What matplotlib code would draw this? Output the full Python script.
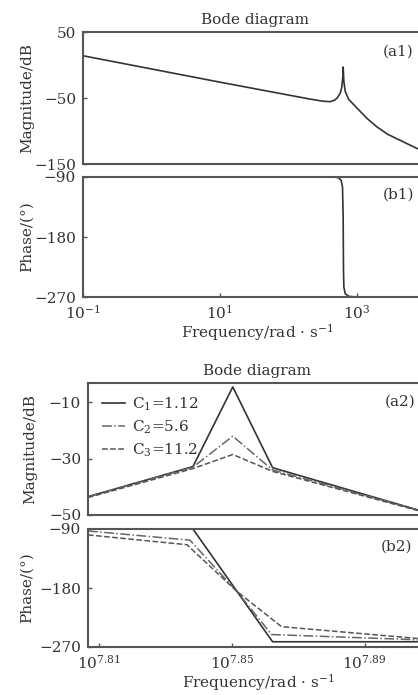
import matplotlib
matplotlib.use("Agg")
import matplotlib.pyplot as plt
import numpy as np

plt.rcParams["font.family"] = ["DejaVu Serif"]
plt.rcParams["mathtext.fontset"] = "dejavuserif"

# ---- panel 1 : single system (a1)/(b1), frequency in rad/s ----
f1_mag = [0.1, 1, 10, 100, 204, 316, 407, 479, 525, 575, 603, 624, 631, 646, 676, 759, 1000,
          1410, 1950, 2820, 4270, 5620, 7760]
mag1_db = [14, -6, -26, -45.5, -51.5, -54.8, -55.6, -53, -49, -42, -33, -18, -3, -25, -40, -52, -65,
           -81, -93.5, -105, -114, -120, -127]

f1_ph = [0.1, 457, 537, 589, 617, 631, 638, 646, 676, 759, 1000, 7760]
ph1_deg = [-90, -90, -91, -95, -105, -150, -230, -255, -265, -269, -270, -270]

# ---- panel 2 : three damping values (a2)/(b2), log10 of frequency ----
lf2_mag = [7.8067, 7.8383, 7.8503, 7.8623, 7.906]
mag2_c1 = [-43.5, -32.8, -4.5, -33.2, -48.2]
mag2_c2 = [-43.5, -33.0, -22.0, -34.0, -48.2]
mag2_c3 = [-43.8, -33.5, -28.5, -34.5, -48.4]

lf2_ph_c1 = [7.8067, 7.8383, 7.8623, 7.906]
ph2_c1 = [-90, -90, -262, -262]
lf2_ph_c2 = [7.8067, 7.8374, 7.8515, 7.8620, 7.906]
ph2_c2 = [-93, -107, -185, -251, -259]
lf2_ph_c3 = [7.8067, 7.8365, 7.8515, 7.8650, 7.906]
ph2_c3 = [-99, -114, -185, -239, -257]

labels2 = ["C$_1$=1.12", "C$_2$=5.6", "C$_3$=11.2"]
ticks2 = [7.81, 7.85, 7.89]

W, H = 418, 695
fig = plt.figure(figsize=(W / 100, H / 100), dpi=100)


def box(x0, y0, x1, y1):
    # pixel box (top-left origin) -> figure fraction
    return [x0 / W, 1 - y1 / H, (x1 - x0) / W, (y1 - y0) / H]


line_c = "#333333"
spine_c = "#555555"


def style(ax):
    for s in ax.spines.values():
        s.set_color(spine_c)
        s.set_linewidth(1.5)
    ax.tick_params(direction="in", length=3, width=1, colors=spine_c,
                   labelcolor="#333333", labelsize=11, pad=5)
    ax.tick_params(which="minor", length=0)
    ax.set_facecolor("white")


# top magnitude
ax1 = fig.add_axes(box(83, 32, 426, 164))
ax1.semilogx(f1_mag, mag1_db, color=line_c, lw=1.2)
ax1.set_xlim(0.1, 10 ** 4.01)
ax1.set_ylim(-150, 50)
ax1.set_yticks([50, -50, -150])
ax1.set_xticks([])
ax1.set_xticks([], minor=True)
style(ax1)
ax1.set_title("Bode diagram", fontsize=11, pad=6, color="#333333")

# top phase
ax2 = fig.add_axes(box(83, 177, 426, 297))
ax2.semilogx(f1_ph, ph1_deg, color=line_c, lw=1.2)
ax2.set_xlim(0.1, 10 ** 4.01)
ax2.set_ylim(-270, -90)
ax2.set_yticks([-90, -180, -270])
ax2.set_xticks([0.1, 10, 1000])
ax2.set_xticklabels(["$10^{-1}$", "$10^{1}$", "$10^{3}$"])
style(ax2)

# bottom magnitude
ax3 = fig.add_axes(box(88, 383, 426, 515))
ax3.plot(lf2_mag, mag2_c1, color=line_c, lw=1.2, ls="-", label=labels2[0])
ax3.plot(lf2_mag, mag2_c2, color="#666666", lw=1.1, ls="-.", label=labels2[1])
ax3.plot(lf2_mag, mag2_c3, color="#555555", lw=1.1, ls="--", label=labels2[2])
ax3.set_xlim(7.8067, 7.9085)
ax3.set_ylim(-50, -3.1)
ax3.set_yticks([-10, -30, -50])
ax3.set_xticks([])
style(ax3)
ax3.set_title("Bode diagram", fontsize=11, pad=6, color="#333333")
ax3.legend(loc="upper left", bbox_to_anchor=(94 / W, 1 - 388 / H),
           bbox_transform=fig.transFigure, frameon=False, fontsize=11,
           handlelength=1.5, handletextpad=0.5, labelspacing=0.35,
           borderpad=0, labelcolor="#333333")

# bottom phase
ax4 = fig.add_axes(box(88, 529, 426, 647))
ax4.plot(lf2_ph_c1, ph2_c1, color=line_c, lw=1.2, ls="-")
ax4.plot(lf2_ph_c2, ph2_c2, color="#666666", lw=1.1, ls="-.")
ax4.plot(lf2_ph_c3, ph2_c3, color="#555555", lw=1.1, ls="--")
ax4.set_xlim(7.8067, 7.9085)
ax4.set_ylim(-270, -90)
ax4.set_yticks([-90, -180, -270])
ax4.set_xticks(ticks2)
ax4.set_xticklabels(["$10^{%.2f}$" % t for t in ticks2])
style(ax4)

# axis labels and panel tags
tc = "#333333"
fig.text(27 / W, 1 - 98 / H, "Magnitude/dB", rotation=90, ha="center", va="center", fontsize=11, color=tc)
fig.text(27 / W, 1 - 237 / H, "Phase/(°)", rotation=90, ha="center", va="center", fontsize=11, color=tc)
fig.text(257 / W, 1 - 333 / H, "Frequency/rad · s$^{-1}$", ha="center", va="center", fontsize=11, color=tc)
fig.text(30 / W, 1 - 449 / H, "Magnitude/dB", rotation=90, ha="center", va="center", fontsize=11, color=tc)
fig.text(27 / W, 1 - 588 / H, "Phase/(°)", rotation=90, ha="center", va="center", fontsize=11, color=tc)
fig.text(258 / W, 1 - 683 / H, "Frequency/rad · s$^{-1}$", ha="center", va="center", fontsize=11, color=tc)

for x, y, s in [(398, 52, "(a1)"), (398, 195, "(b1)"), (400, 402, "(a2)"), (397, 547, "(b2)")]:
    fig.text(x / W, 1 - y / H, s, ha="center", va="center", fontsize=11, color=tc)

fig.savefig("out.png", dpi=100)
